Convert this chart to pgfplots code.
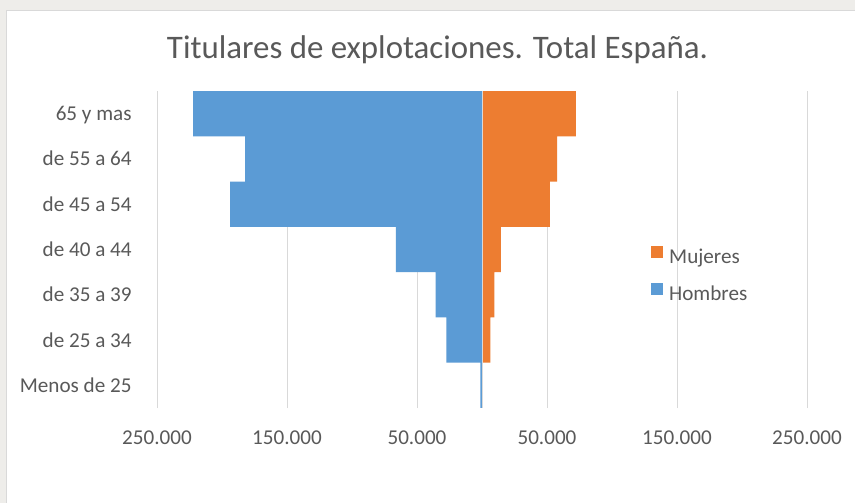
\documentclass[border=0pt]{standalone}
\usepackage{pgfplots}
\pgfplotsset{compat=1.18}
\usepackage{fontspec}
\setmainfont{Carlito}
\definecolor{hblue}{HTML}{5B9BD5}
\definecolor{morange}{HTML}{ED7D31}
\definecolor{gridc}{HTML}{D9D9D9}
\definecolor{txt}{HTML}{595959}
\definecolor{framec}{HTML}{EEEDEA}
\begin{document}
\begin{tikzpicture}
\useasboundingbox (0,0) rectangle (855bp,503bp);
\fill[framec] (0,0) rectangle (855bp,503bp);
\fill[white] (6bp,0) rectangle (855bp,493bp);
\draw[gridc, line width=0.75bp] (6bp,0) -- (6bp,493bp) -- (855bp,493bp);
\node[anchor=base, text=txt, font=\fontsize{33}{40}\selectfont, inner sep=0pt] at (437.5bp,444bp) {Titulares de explotaciones. Total España.};
\begin{axis}[
  at={(157bp,95bp)}, anchor=south west,
  scale only axis, width=650bp, height=317bp,
  xmin=-250000, xmax=250000, ymin=-0.5, ymax=6.5,
  xbar, bar width=1, bar shift=0pt,
  axis line style={draw=none},
  major tick style={draw=none},
  xmajorgrids, grid style={gridc, line width=1bp},
  scaled x ticks=false,
  xtick={-250000,-150000,-50000,50000,150000,250000},
  xticklabels={250.000,150.000,50.000,50.000,150.000,250.000},
  ytick={0,1,2,3,4,5,6},
  yticklabels={Menos de 25,de 25 a 34,de 35 a 39,de 40 a 44,de 45 a 54,de 55 a 64,65 y mas},
  tick label style={font=\fontsize{21.2}{26}\selectfont, text=txt},
  xticklabel style={anchor=base, yshift=-36bp},
  yticklabel style={anchor=base east, inner sep=0pt, xshift=-21bp, yshift=-7bp},
  legend cell align=left,
  legend style={draw=none, fill=none, at={(0.7600,0.424)}, anchor=west,
    inner sep=0pt, row sep=18bp, column sep=6bp,
    font=\fontsize{21.2}{26}\selectfont, text=txt,
    nodes={inner sep=0pt, text=txt}},
  legend image code/.code={\fill[#1] (0bp,-1bp) rectangle (12bp,11bp);},
]
\addplot[fill=morange, draw=none] coordinates {
  (72300,6) (57700,5) (52200,4) (14600,3) (9600,2) (6500,1) (200,0)};
\addlegendentry{Mujeres}
\addplot[fill=hblue, draw=none] coordinates {
  (-222300,6) (-182300,5) (-193800,4) (-66200,3) (-35600,2) (-27500,1) (-1200,0)};
\addlegendentry{Hombres}
\draw[gridc, line width=1bp] (axis cs:0,-0.5) -- (axis cs:0,6.5);
\end{axis}
\end{tikzpicture}
\end{document}
